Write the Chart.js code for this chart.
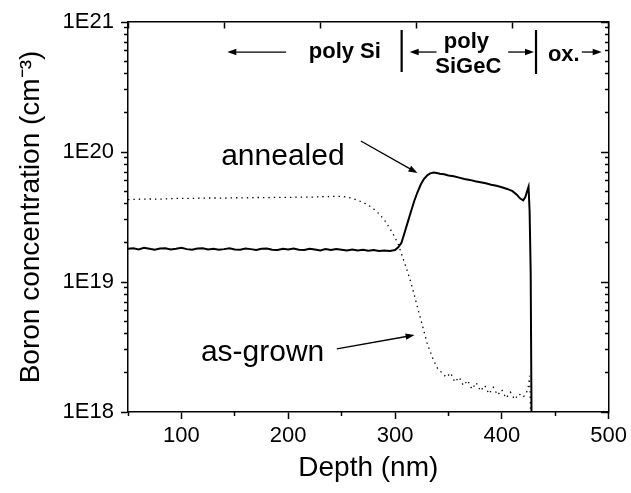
<!DOCTYPE html>
<html>
<head>
<meta charset="utf-8">
<script src="https://cdn.jsdelivr.net/npm/chart.js@4.4.0/dist/chart.umd.min.js"></script>
<style>
html, body { margin: 0; padding: 0; background: #fff; }
</style>
</head>
<body>
<canvas id="chart" width="631" height="493"></canvas>
<script>
const chartElm = document.getElementById('chart');
const family = '"Liberation Sans", Arial, sans-serif';

// depth in nm, concentrations in units of 1E19 cm^-3
const annealedDepth = [
    50, 55, 60, 65, 70, 75, 80, 85, 90, 95,
    100, 105, 110, 115, 120, 125, 130, 135, 140, 145,
    150, 155, 160, 165, 170, 175, 180, 185, 190, 195,
    200, 205, 210, 215, 220, 225, 230, 235, 240, 245,
    250, 255, 260, 265, 270, 275, 280, 285, 290, 295,
    300, 303, 306, 309, 312, 315, 318, 321, 324, 327,
    330, 333, 336, 339, 342, 346, 350, 355, 360, 365,
    370, 375, 380, 385, 390, 395, 400, 405, 410, 414,
    417, 420, 422, 424, 425, 426, 427, 428
]
const annealedConc = [
    1.80, 1.82, 1.78, 1.83, 1.80, 1.77, 1.81, 1.82, 1.78, 1.80,
    1.83, 1.79, 1.77, 1.81, 1.82, 1.78, 1.80, 1.77, 1.79, 1.82,
    1.78, 1.77, 1.81, 1.79, 1.76, 1.80, 1.81, 1.77, 1.76, 1.80,
    1.78, 1.81, 1.77, 1.76, 1.80, 1.78, 1.75, 1.79, 1.76, 1.79,
    1.77, 1.75, 1.78, 1.75, 1.77, 1.74, 1.76, 1.73, 1.75, 1.73,
    1.76, 1.85, 2.0, 2.4, 2.9, 3.5, 4.2, 4.9, 5.6, 6.2,
    6.6, 6.85, 6.95, 6.9, 6.8, 6.75, 6.6, 6.5, 6.35, 6.2,
    6.1, 5.95, 5.85, 5.75, 5.6, 5.5, 5.35, 5.2, 5.0, 4.7,
    4.4, 4.25, 4.5, 5.1, 5.4, 3.5, 1.2, 0.05
]
const grownDepth = [
    50, 60, 70, 80, 90, 100, 110, 120, 130, 140,
    150, 160, 170, 180, 190, 200, 210, 220, 230, 240,
    250, 255, 260, 265, 270, 275, 280, 285, 290, 295,
    300, 303, 306, 309, 312, 315, 318, 321, 324, 327,
    330, 333, 336, 340, 344, 348, 352, 356, 360, 364,
    368, 372, 376, 380, 384, 388, 392, 396, 400, 404,
    408, 412, 416, 420, 423, 425, 426, 428
]
const grownConc = [
    4.30, 4.33, 4.35, 4.34, 4.38, 4.40, 4.39, 4.42, 4.43, 4.42,
    4.45, 4.44, 4.47, 4.46, 4.48, 4.47, 4.50, 4.49, 4.52, 4.55,
    4.55, 4.5, 4.4, 4.25, 4.1, 3.9, 3.65, 3.35, 3.0, 2.6,
    2.2, 1.95, 1.65, 1.4, 1.18, 0.98, 0.80, 0.64, 0.52, 0.42,
    0.34, 0.29, 0.25, 0.215, 0.2, 0.185, 0.2, 0.17, 0.185, 0.16,
    0.175, 0.15, 0.168, 0.145, 0.16, 0.138, 0.155, 0.135, 0.148, 0.128,
    0.142, 0.125, 0.138, 0.13, 0.14, 0.16, 0.19, 0.05
]

const xTicks = [100, 200, 300, 400, 500]
const xMinorTicks = [50, 150, 250, 350, 450]
const yTicks = [1e18, 1e19, 1e20, 1e21]
const yMinorTicks = []
for (const d of [1e18, 1e19, 1e20]) {
    for (let m = 2; m <= 9; m++) yMinorTicks.push(m * d)
}

const toPoints = (xs, ys) => xs.map((x, i) => ({ x: x, y: ys[i] * 1e19 }))
const setTicks = list => axis => { axis.ticks = list.map(v => ({ value: v })) }

function arrow(ctx, x1, y1, x2, y2) {
    const a = Math.atan2(y2 - y1, x2 - x1)
    const L = 9, H = 3.2
    const c = Math.cos(a), s = Math.sin(a)
    ctx.beginPath()
    ctx.moveTo(x1, y1)
    ctx.lineTo(x2 - L * 0.6 * c, y2 - L * 0.6 * s)
    ctx.stroke()
    ctx.beginPath()
    ctx.moveTo(x2, y2)
    ctx.lineTo(x2 - L * c + H * s, y2 - L * s - H * c)
    ctx.lineTo(x2 - L * c - H * s, y2 - L * s + H * c)
    ctx.closePath()
    ctx.fill()
}

// text and arrows, placed in data space (depth nm, log10 conc)
const notes = {
    id: 'notes',
    afterDatasetsDraw(chart) {
        const ctx = chart.ctx
        const px = v => chart.scales.x.getPixelForValue(v)
        const py = l => chart.scales.y.getPixelForValue(Math.pow(10, l))
        ctx.save()
        ctx.fillStyle = '#000'
        ctx.strokeStyle = '#000'
        ctx.textAlign = 'center'
        ctx.textBaseline = 'middle'

        ctx.font = '30px ' + family
        ctx.fillText('annealed', px(195), py(19.96))
        ctx.fillText('as-grown', px(176), py(18.454))
        ctx.lineWidth = 1.3
        arrow(ctx, px(268), py(20.085), px(321), py(19.838))
        arrow(ctx, px(245.5), py(18.485), px(318.3), py(18.592))

        ctx.font = 'bold 22px ' + family
        ctx.fillText('poly Si', px(253), py(20.769))
        ctx.fillText('poly', px(366.8), py(20.846))
        ctx.fillText('SiGeC', px(368.6), py(20.654))
        ctx.fillText('ox.', px(458), py(20.746))
        ctx.lineWidth = 1.3
        arrow(ctx, px(198), py(20.769), px(143), py(20.769))
        arrow(ctx, px(338.8), py(20.769), px(313.7), py(20.769))
        arrow(ctx, px(405.9), py(20.769), px(430.1), py(20.769))
        arrow(ctx, px(474.9), py(20.769), px(493.5), py(20.769))
        ctx.lineWidth = 2.2
        ctx.beginPath()
        ctx.moveTo(px(306.2), py(20.938))
        ctx.lineTo(px(306.2), py(20.615))
        ctx.moveTo(px(432), py(20.938))
        ctx.lineTo(px(432), py(20.6))
        ctx.stroke()
        ctx.restore()
    }
}

const tickFont = { family: family, size: 22 }
const hidden = { display: false }
const minorGrid = { drawOnChartArea: false, tickLength: 4, tickWidth: 1.5, color: '#000' }
const majorGrid = { drawOnChartArea: false, tickLength: 7, tickWidth: 1.5, color: '#000' }
const axisBorder = { display: true, color: '#000', width: 1.5 }

new Chart(chartElm, {
    type: 'line',
    data: {
        datasets: [{
            label: 'annealed',
            data: toPoints(annealedDepth, annealedConc),
            borderColor: '#000',
            borderWidth: 2,
            pointRadius: 0,
            tension: 0
        }, {
            label: 'as-grown',
            data: toPoints(grownDepth, grownConc),
            borderColor: '#000',
            borderWidth: 1.3,
            borderDash: [1.4, 4],
            pointRadius: 0,
            tension: 0
        }]
    },
    options: {
        responsive: false,
        animation: false,
        layout: { padding: { left: 0, right: 20, top: 22, bottom: 0 } },
        plugins: { legend: hidden, tooltip: { enabled: false } },
        scales: {
            x: {
                type: 'linear', axis: 'x', position: 'bottom', min: 50, max: 500,
                afterBuildTicks: setTicks(xTicks),
                afterFit: s => { s.height = 81 },
                ticks: { font: tickFont, color: '#000', padding: 4, maxRotation: 0, autoSkip: false, callback: v => String(v) },
                grid: majorGrid,
                border: axisBorder,
                title: { display: true, text: 'Depth (nm)', color: '#000', font: { family: family, size: 28 }, padding: { top: 0, bottom: 8 } }
            },
            xMinor: {
                type: 'linear', axis: 'x', position: { y: 1e18 }, min: 50, max: 500,
                afterBuildTicks: setTicks(xMinorTicks),
                ticks: hidden, grid: minorGrid, border: hidden
            },
            xTop: {
                type: 'linear', axis: 'x', position: { y: 1e21 }, min: 0, max: 5,
                afterBuildTicks: setTicks([0, 1, 2, 3, 4, 5]),
                ticks: hidden,
                grid: { drawOnChartArea: false, tickLength: 6, tickWidth: 1.5, color: '#000' },
                border: axisBorder
            },
            y: {
                type: 'logarithmic', axis: 'y', position: 'left', min: 1e18, max: 1e21,
                afterBuildTicks: setTicks(yTicks),
                afterFit: s => { s.width = 128 },
                ticks: { font: tickFont, color: '#000', padding: 7, callback: v => '1E' + Math.round(Math.log10(v)) },
                grid: majorGrid,
                border: axisBorder,
                title: { display: true, text: 'Boron concentration (cm⁻³)', color: '#000', font: { family: family, size: 28 }, padding: { top: 14, bottom: 0 } }
            },
            yMinor: {
                type: 'logarithmic', axis: 'y', position: { x: 50 }, min: 1e18, max: 1e21,
                afterBuildTicks: setTicks(yMinorTicks),
                ticks: hidden, grid: minorGrid, border: hidden
            },
            yRight: {
                type: 'logarithmic', axis: 'y', position: { x: 500 }, min: 1e18, max: 1e21,
                afterBuildTicks: setTicks(yTicks),
                ticks: hidden, grid: majorGrid, border: axisBorder
            },
            yRightMinor: {
                type: 'logarithmic', axis: 'y', position: { x: 500 }, min: 1e18, max: 1e21,
                afterBuildTicks: setTicks(yMinorTicks),
                ticks: hidden, grid: minorGrid, border: hidden
            }
        }
    },
    plugins: [notes]
});
</script>
</body>
</html>
